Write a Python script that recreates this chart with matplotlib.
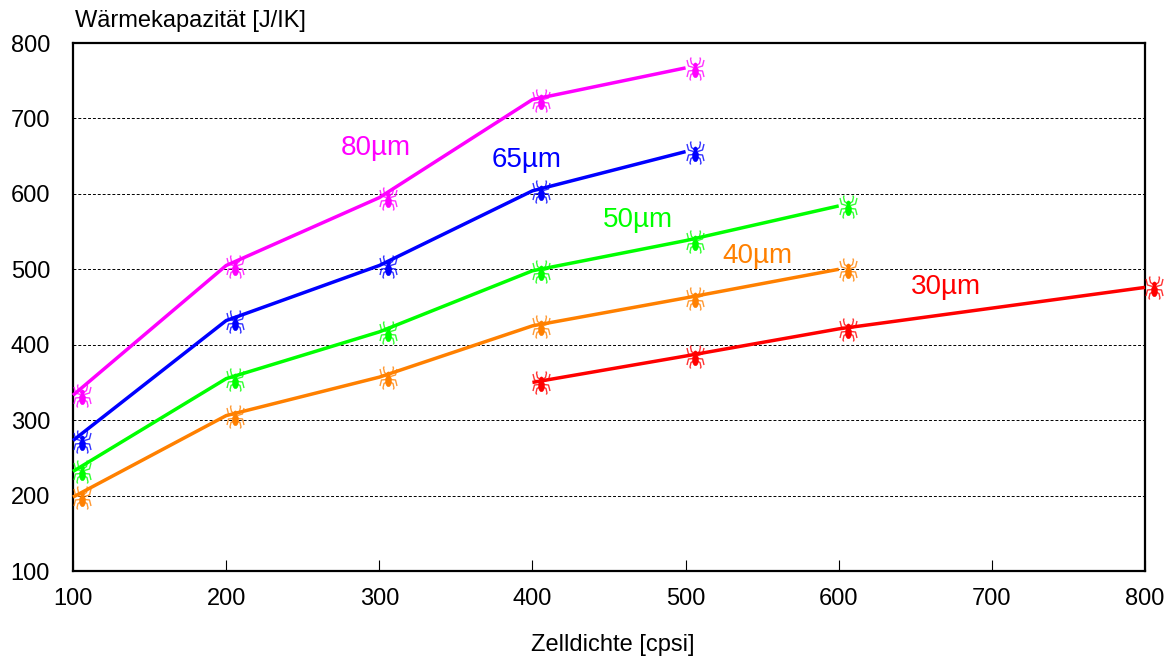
import numpy as np
import matplotlib
matplotlib.use("Agg")
import matplotlib.pyplot as plt
from matplotlib.path import Path

plt.rcParams['font.family'] = ['Liberation Sans', 'DejaVu Sans']

# ---- data ----
x_80 = [100, 200, 300, 400, 500]
y_80 = [333, 505, 595, 725, 767]
x_65 = [100, 200, 300, 400, 500]
y_65 = [273, 432, 505, 604, 656]
x_50 = [100, 200, 300, 400, 500, 600]
y_50 = [232, 355, 417, 498, 538, 584]
x_40 = [100, 200, 300, 400, 500, 600]
y_40 = [198, 306, 357, 425, 462, 500]
x_30 = [400, 500, 600, 800]
y_30 = [350, 385, 421, 476]

series_labels = ["80µm", "65µm", "50µm", "40µm", "30µm"]
series_colors = ["#FF00FF", "#0000FF", "#00FF00", "#FF8000", "#FF0000"]
label_pos_x = [298, 396, 469, 547, 670]
label_pos_y = [661, 645, 565, 518, 476]

xticks = [100, 200, 300, 400, 500, 600, 700, 800]
yticks = [100, 200, 300, 400, 500, 600, 700, 800]

# ---- spider marker (pixel design units, offset to the right of the point) ----
cx, cy = 9.0, -0.5
leg_verts, leg_codes = [], []
legs = [
    [(1.2, 3.5), (4, 5.5), (5, 10), (4.3, 11.5)],
    [(2.0, 1.5), (7, 3), (8.5, 9)],
    [(2.4, -1.5), (7, -2), (8.5, -8)],
    [(1.8, -4), (4.5, -5.5), (5.5, -10), (4.8, -11.5)],
]
for s in (1, -1):
    for leg in legs:
        for i, (lx, ly) in enumerate(leg):
            leg_verts.append((cx + s * lx, cy + ly))
            leg_codes.append(Path.MOVETO if i == 0 else Path.LINETO)
ext = 18.0
leg_verts.append((ext, 0))
leg_codes.append(Path.MOVETO)
leg_path = Path(leg_verts, leg_codes)

t = np.linspace(0, 2 * np.pi, 30)
abd = np.column_stack([cx + 3.1 * np.cos(t), cy - 3.0 + 5.8 * np.sin(t)])
head = np.column_stack([cx + 2.0 * np.cos(t), cy + 3.8 + 2.3 * np.sin(t)])
body_verts = list(map(tuple, abd)) + list(map(tuple, head))
body_codes = ([Path.MOVETO] + [Path.LINETO] * (len(t) - 2) + [Path.CLOSEPOLY]) * 2
body_verts += [(ext, 0)]
body_codes += [Path.MOVETO]
body_path = Path(body_verts, body_codes)

msize = 2 * ext / (100 / 72.0)

fig = plt.figure(figsize=(11.72, 6.62), dpi=100)
ax = fig.add_axes([73 / 1172, 1 - 571 / 662, (1145 - 73) / 1172, (571 - 43) / 662])

ax.set_xlim(100, 800)
ax.set_ylim(100, 800)

for yv in yticks[1:-1]:
    ax.axhline(yv, color='black', lw=0.7, ls=(0, (3, 2)), zorder=1)

all_x = [x_80, x_65, x_50, x_40, x_30]
all_y = [y_80, y_65, y_50, y_40, y_30]
for xs, ys, col in zip(all_x, all_y, series_colors):
    ax.plot(xs, ys, color=col, lw=2.5, zorder=3, solid_capstyle='butt', clip_on=False)
for xs, ys, col in zip(all_x, all_y, series_colors):
    ax.plot(xs, ys, ls='none', marker=leg_path, markersize=msize,
            markerfacecolor='none', markeredgecolor=col, markeredgewidth=1.0,
            alpha=0.8, zorder=4, clip_on=False)
    ax.plot(xs, ys, ls='none', marker=body_path, markersize=msize,
            markerfacecolor=col, markeredgecolor=col, markeredgewidth=0.3,
            zorder=5, clip_on=False)

for lab, lx, ly, col in zip(series_labels, label_pos_x, label_pos_y, series_colors):
    ax.text(lx, ly, lab, color=col, fontsize=20, ha='center', va='center', zorder=6)

ax.set_xticks(xticks)
ax.set_yticks(yticks)
ax.tick_params(axis='x', direction='in', length=8, width=0.8, pad=12.5, labelsize=17)
ax.tick_params(axis='y', direction='in', length=0, pad=16.5, labelsize=17)
for sp in ax.spines.values():
    sp.set_linewidth(1.6)
    sp.set_color('black')

fig.text(75 / 1172, 1 - 21 / 662, "Wärmekapazität [J/IK]", fontsize=17,
         ha='left', va='center')
fig.text(613 / 1172, 1 - 645 / 662, "Zelldichte [cpsi]", fontsize=17,
         ha='center', va='center')

fig.savefig("out.png", dpi=100)
